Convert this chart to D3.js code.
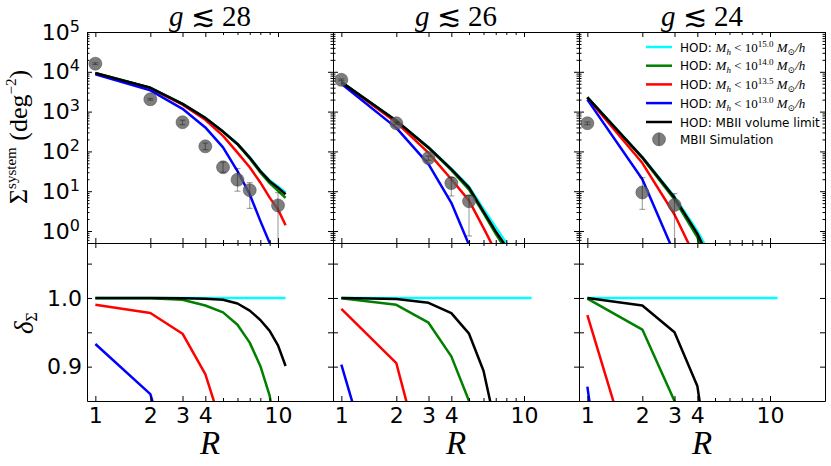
<!DOCTYPE html>
<html>
<head>
<meta charset="utf-8">
<script src="https://cdn.jsdelivr.net/npm/d3@7"></script>
<style>
  body { margin: 0; background: #fff; }
  svg { display: block; }
</style>
</head>
<body>
<svg id="chart" width="831" height="466"></svg>
<script>
// radius R of the systems, same grid for every HOD curve
const R = [1, 2, 3, 4, 5, 6, 7, 8, 9, 10, 11]
const mag_cuts = ["28", "26", "24"]

// Sigma^system (deg^-2), one array per magnitude cut: g<~28, g<~26, g<~24
const sigma_hod15 = [
  [9300, 3980, 1570, 700, 318, 156, 71.5, 33, 18.8, 13.2, 9.3],
  [5520, 592, 127, 36.8, 13.0, 3.6, 1.25, 0.5, 0.2, 0.08, 0.03],
  [2300, 72, 7.3, 1.0, 0.16, 0.02]
]
const sigma_hod14 = [
  [9290, 3975, 1566, 692, 311, 150, 66.8, 29.7, 16, 10.3, 6.8],
  [5515, 586, 122, 33.7, 11.0, 2.8, 0.85, 0.33, 0.1, 0.03],
  [2298, 68.7, 6.2, 0.7, 0.04]
]
const sigma_hod135 = [
  [9210, 3890, 1490, 622, 245, 93, 40, 16.6, 6.9, 3.5, 1.4],
  [5430, 536, 92, 20, 5.8, 1.2, 0.3, 0.06],
  [2240, 51, 2.6, 0.17, 0.02]
]
const sigma_hod13 = [
  [8680, 3420, 1175, 400, 126, 32, 8.4, 1.8, 0.5, 0.1],
  [4985, 390, 48, 5.1, 0.45, 0.05],
  [2000, 20, 0.27, 0.03]
]
const sigma_vol = [
  [9280, 3970, 1560, 694, 315, 154, 70, 32, 17.9, 12.3, 8.4],
  [5500, 591, 126, 36, 12.3, 3.07, 0.98, 0.4, 0.15, 0.05],
  [2290, 71, 6.9, 0.86, 0.1, 0.01]
]

// delta_Sigma, ratio to the M_h < 10^15 curve
const delta_hod15 = [
  [1, 1, 1, 1, 1, 1, 1, 1, 1, 1, 1],
  [1, 1, 1, 1, 1, 1, 1, 1, 1, 1, 1],
  [1, 1, 1, 1, 1, 1, 1, 1, 1, 1, 1]
]
const delta_hod14 = [
  [0.9995, 0.9995, 0.9975, 0.989, 0.979, 0.961, 0.935, 0.901, 0.858, 0.78, 0.70],
  [0.9995, 0.990, 0.964, 0.915, 0.85, 0.77, 0.68],
  [0.999, 0.954, 0.85, 0.70, 0.30]
]
const delta_hod135 = [
  [0.990, 0.978, 0.948, 0.889, 0.808, 0.60],
  [0.984, 0.905, 0.727, 0.55],
  [0.975, 0.71, 0.35]
]
const delta_hod13 = [
  [0.933, 0.860, 0.70, 0.50],
  [0.903, 0.63, 0.40],
  [0.871, 0.30, 0.10]
]
const delta_vol = [
  [1.0, 1.0, 0.9995, 0.999, 0.9975, 0.992, 0.9815, 0.968, 0.952, 0.931, 0.901],
  [1.0, 0.9985, 0.993, 0.978, 0.948, 0.894, 0.813, 0.75],
  [1.0, 0.989, 0.950, 0.872, 0.70]
]

// MBII simulation points with error bars
const sim_R = [[1, 2, 3, 4, 5, 6, 7, 10], [1, 2, 3, 4, 5], [1, 2, 3]]
const sim_sigma = [[16000, 2040, 540, 134, 40, 19.4, 10.6, 4.4], [6300, 510, 68, 16, 5.6], [510, 9.3, 4.5]]
const sim_lo = [[15200, 1940, 470, 110, 30, 10, 3.7, 0.1], [6000, 480, 60, 7.6, 0.75], [470, 3.5, 0.05]]
const sim_hi = [[16800, 2140, 610, 162, 54, 37, 16.5, 9.2], [6600, 540, 76, 22, 7.8], [550, 22, 8.7]]

const hod_colors = ["#00ffff", "#008000", "#ff0000", "#0000ff", "#000000"]
const hod_powers = ["15.0", "14.0", "13.5", "13.0"]

// tick values
const x_major = [1, 2, 3, 4, 10]
const x_minor = [5, 6, 7, 8, 9, 20]
const y_top_major = [1, 10, 100, 1000, 10000, 100000]
const y_bot_major = [0.9, 0.95, 1.0, 1.05]
const y_bot_labels = ["0.9", "", "1.0", ""]

/**
 * Layout
 */
const svg = d3.select("#chart")
const panel_left = [87, 333, 579]
const pw = 246
const top_y = 32, top_h = 211
const bot_y = 243, bot_h = 158

const serif = "'Liberation Serif', 'DejaVu Serif', serif"
const sans = "'DejaVu Sans', sans-serif"

const xScale = d3.scaleLog().domain([0.9, 20]).range([0, pw])
const yTop = d3.scaleLog().domain([0.5, 1e5]).range([top_h, 0])
const yBot = d3.scaleLinear().domain([0.85, 1.08]).range([bot_h, 0])

// log minor ticks for the top panels
const y_top_minor = []
for (let k = -1; k < 5; k++) {
  for (let m = 2; m < 10; m++) {
    const v = m * Math.pow(10, k)
    if (v >= 0.5 && v <= 1e5) y_top_minor.push(v)
  }
}

function style_axis(sel) {
  sel.selectAll("line").attr("stroke", "#000").attr("stroke-width", 1)
  sel.selectAll("path").attr("stroke", "#000").attr("stroke-width", 1)
  sel.attr("font-family", sans).attr("font-size", 22)
  sel.selectAll("text").attr("fill", "#000")
}

function no_label() { return "" }

function draw_frame(g, yScale, h, y_major, y_minor, y_fmt, show_x) {
  // x ticks, bottom and top
  let a = g.append("g").attr("transform", `translate(0,${h})`)
    .call(d3.axisBottom(xScale).tickValues(x_major).tickSize(-5).tickSizeOuter(0).tickPadding(6)
      .tickFormat(show_x ? (d, i) => String(x_major[i]) : no_label))
  style_axis(a)
  a = g.append("g").attr("transform", `translate(0,${h})`)
    .call(d3.axisBottom(xScale).tickValues(x_minor).tickSize(-3).tickFormat(no_label))
  a.select(".domain").remove()
  style_axis(a)
  a = g.append("g")
    .call(d3.axisTop(xScale).tickValues(x_major).tickSize(-5).tickSizeOuter(0).tickFormat(no_label))
  style_axis(a)
  a = g.append("g")
    .call(d3.axisTop(xScale).tickValues(x_minor).tickSize(-3).tickFormat(no_label))
  a.select(".domain").remove()
  style_axis(a)

  // y ticks, left and right
  a = g.append("g")
    .call(d3.axisLeft(yScale).tickValues(y_major).tickSize(-5).tickSizeOuter(0).tickPadding(y_fmt ? y_fmt.pad : 6)
      .tickFormat(y_fmt ? y_fmt.f : no_label))
  style_axis(a)
  if (y_fmt && y_fmt.post) a.selectAll(".tick text").each(y_fmt.post)
  a = g.append("g").attr("transform", `translate(${pw},0)`)
    .call(d3.axisRight(yScale).tickValues(y_major).tickSize(-5).tickSizeOuter(0).tickFormat(no_label))
  style_axis(a)
  if (y_minor) {
    a = g.append("g").call(d3.axisLeft(yScale).tickValues(y_minor).tickSize(-2.5).tickFormat(no_label))
    a.select(".domain").remove()
    style_axis(a)
    a = g.append("g").attr("transform", `translate(${pw},0)`)
      .call(d3.axisRight(yScale).tickValues(y_minor).tickSize(-2.5).tickFormat(no_label))
    a.select(".domain").remove()
    style_axis(a)
  }
}

const top_fmt = {
  pad: 7,
  f: () => "10",
  post: function (d) {
    d3.select(this).append("tspan").attr("dy", -8).attr("font-size", 16).text(Math.round(Math.log10(d)))
  }
}
const bot_fmt = { pad: 5, f: (d, i) => y_bot_labels[i] }

const sigma_sets = [sigma_hod15, sigma_hod14, sigma_hod135, sigma_hod13, sigma_vol]
const delta_sets = [delta_hod15, delta_hod14, delta_hod135, delta_hod13, delta_vol]

mag_cuts.forEach((cut, p) => {
  const x0 = panel_left[p]

  /**
   * Top panel: Sigma^system
   */
  const gt = svg.append("g").attr("transform", `translate(${x0},${top_y})`)
  const clip_t = "clip_top_" + p
  gt.append("clipPath").attr("id", clip_t).append("rect").attr("width", pw).attr("height", top_h)
  const plot_t = gt.append("g").attr("clip-path", `url(#${clip_t})`)

  const line_t = d3.line().x((d, i) => xScale(R[i])).y(d => yTop(d))
  sigma_sets.forEach((set, s) => {
    plot_t.append("path")
      .datum(set[p])
      .attr("d", line_t)
      .attr("fill", "none")
      .attr("stroke", hod_colors[s])
      .attr("stroke-width", 2.5)
      .attr("stroke-linejoin", "round")
  })

  const pts = sim_R[p].map((r, i) => ({ r, v: sim_sigma[p][i], lo: sim_lo[p][i], hi: sim_hi[p][i] }))
  plot_t.selectAll(".sim").data(pts).enter()
    .append("circle")
    .attr("class", "sim")
    .attr("cx", d => xScale(d.r))
    .attr("cy", d => yTop(d.v))
    .attr("r", 6.5)
    .attr("fill", "#5e5e5e")
    .attr("fill-opacity", 0.8)
    .attr("stroke", "#444")
    .attr("stroke-opacity", 0.6)
    .attr("stroke-width", 0.8)

  const eb = plot_t.selectAll(".err").data(pts).enter().append("g").attr("class", "err")
    .attr("stroke", "#000").attr("stroke-opacity", 0.35).attr("stroke-width", 1.2)
  eb.append("line")
    .attr("x1", d => xScale(d.r)).attr("x2", d => xScale(d.r))
    .attr("y1", d => yTop(d.lo)).attr("y2", d => yTop(d.hi))
  eb.append("line")
    .attr("x1", d => xScale(d.r) - 3).attr("x2", d => xScale(d.r) + 3)
    .attr("y1", d => yTop(d.lo)).attr("y2", d => yTop(d.lo))
  eb.append("line")
    .attr("x1", d => xScale(d.r) - 3).attr("x2", d => xScale(d.r) + 3)
    .attr("y1", d => yTop(d.hi)).attr("y2", d => yTop(d.hi))

  draw_frame(gt, yTop, top_h, y_top_major, y_top_minor, p === 0 ? top_fmt : null, false)

  // title
  const title = svg.append("text")
    .attr("x", x0 + pw / 2)
    .attr("y", 26)
    .attr("text-anchor", "middle")
    .attr("font-family", serif)
    .attr("font-size", 29)
  title.append("tspan").attr("font-style", "italic").text("g")
  title.append("tspan").text(" \u2272 " + cut)

  /**
   * Bottom panel: delta_Sigma
   */
  const gb = svg.append("g").attr("transform", `translate(${x0},${bot_y})`)
  const clip_b = "clip_bot_" + p
  gb.append("clipPath").attr("id", clip_b).append("rect").attr("width", pw).attr("height", bot_h)
  const plot_b = gb.append("g").attr("clip-path", `url(#${clip_b})`)

  const line_b = d3.line().x((d, i) => xScale(R[i])).y(d => yBot(d))
  delta_sets.forEach((set, s) => {
    plot_b.append("path")
      .datum(set[p])
      .attr("d", line_b)
      .attr("fill", "none")
      .attr("stroke", hod_colors[s])
      .attr("stroke-width", 2.5)
      .attr("stroke-linejoin", "round")
  })

  draw_frame(gb, yBot, bot_h, y_bot_major, null, p === 0 ? bot_fmt : null, true)

  // x label
  svg.append("text")
    .attr("x", x0 + pw / 2)
    .attr("y", 454)
    .attr("text-anchor", "middle")
    .attr("font-family", serif)
    .attr("font-style", "italic")
    .attr("font-size", 33)
    .text("R")
})

/**
 * Y axis labels
 */
const ylab = svg.append("text")
  .attr("transform", "translate(27,137) rotate(-90)")
  .attr("text-anchor", "middle")
  .attr("font-family", serif)
  .attr("font-size", 26)
ylab.append("tspan").text("\u03A3")
ylab.append("tspan").attr("font-size", 15).attr("dy", -11).text("system")
ylab.append("tspan").attr("dy", 11).text(" (deg")
ylab.append("tspan").attr("font-size", 15).attr("dy", -11).text("\u22122")
ylab.append("tspan").attr("dy", 11).text(")")

const dlab = svg.append("text")
  .attr("transform", "translate(33,323) rotate(-90)")
  .attr("text-anchor", "middle")
  .attr("font-family", serif)
  .attr("font-size", 27)
dlab.append("tspan").attr("font-style", "italic").text("\u03B4")
dlab.append("tspan").attr("font-size", 16).attr("dy", 4).text("\u03A3")

/**
 * Legend
 */
const legend_x = 646, legend_len = 26, legend_tx = 680
const legend_rows = [47, 65.7, 84.4, 103.1, 122, 139.3]

hod_colors.forEach((c, s) => {
  const y = legend_rows[s]
  svg.append("line")
    .attr("x1", legend_x).attr("x2", legend_x + legend_len)
    .attr("y1", y).attr("y2", y)
    .attr("stroke", c).attr("stroke-width", 2.5)
  const t = svg.append("text")
    .attr("x", legend_tx).attr("y", y + 4.5)
    .attr("font-family", sans).attr("font-size", 12)
  if (s < hod_powers.length) {
    t.append("tspan").text("HOD: ")
    const m = { "font-family": serif, "font-size": 13 }
    const add = (txt, size, dy, italic) => {
      const sp = t.append("tspan").attr("font-family", serif).attr("font-size", size).text(txt)
      if (dy) sp.attr("dy", dy)
      if (italic) sp.attr("font-style", "italic")
    }
    add("M", 13, 0, true)
    add("h", 9, 3, true)
    add(" < 10", 13, -3, false)
    add(hod_powers[s], 9, -5, false)
    add(" M", 13, 5, true)
    add("\u2299", 9, 3, false)
    add("/h", 13, -3, true)
  } else {
    t.text("HOD: MBII volume limit")
  }
})

const sim_y = legend_rows[5]
svg.append("circle")
  .attr("cx", legend_x + legend_len / 2).attr("cy", sim_y).attr("r", 6.5)
  .attr("fill", "#5e5e5e").attr("fill-opacity", 0.8)
  .attr("stroke", "#444").attr("stroke-opacity", 0.6).attr("stroke-width", 0.8)
svg.append("line")
  .attr("x1", legend_x + legend_len / 2).attr("x2", legend_x + legend_len / 2)
  .attr("y1", sim_y - 6.5).attr("y2", sim_y + 6.5)
  .attr("stroke", "#000").attr("stroke-opacity", 0.35).attr("stroke-width", 1.2)
svg.append("text")
  .attr("x", legend_tx).attr("y", sim_y + 4.5)
  .attr("font-family", sans).attr("font-size", 12)
  .text("MBII Simulation")
</script>
</body>
</html>
